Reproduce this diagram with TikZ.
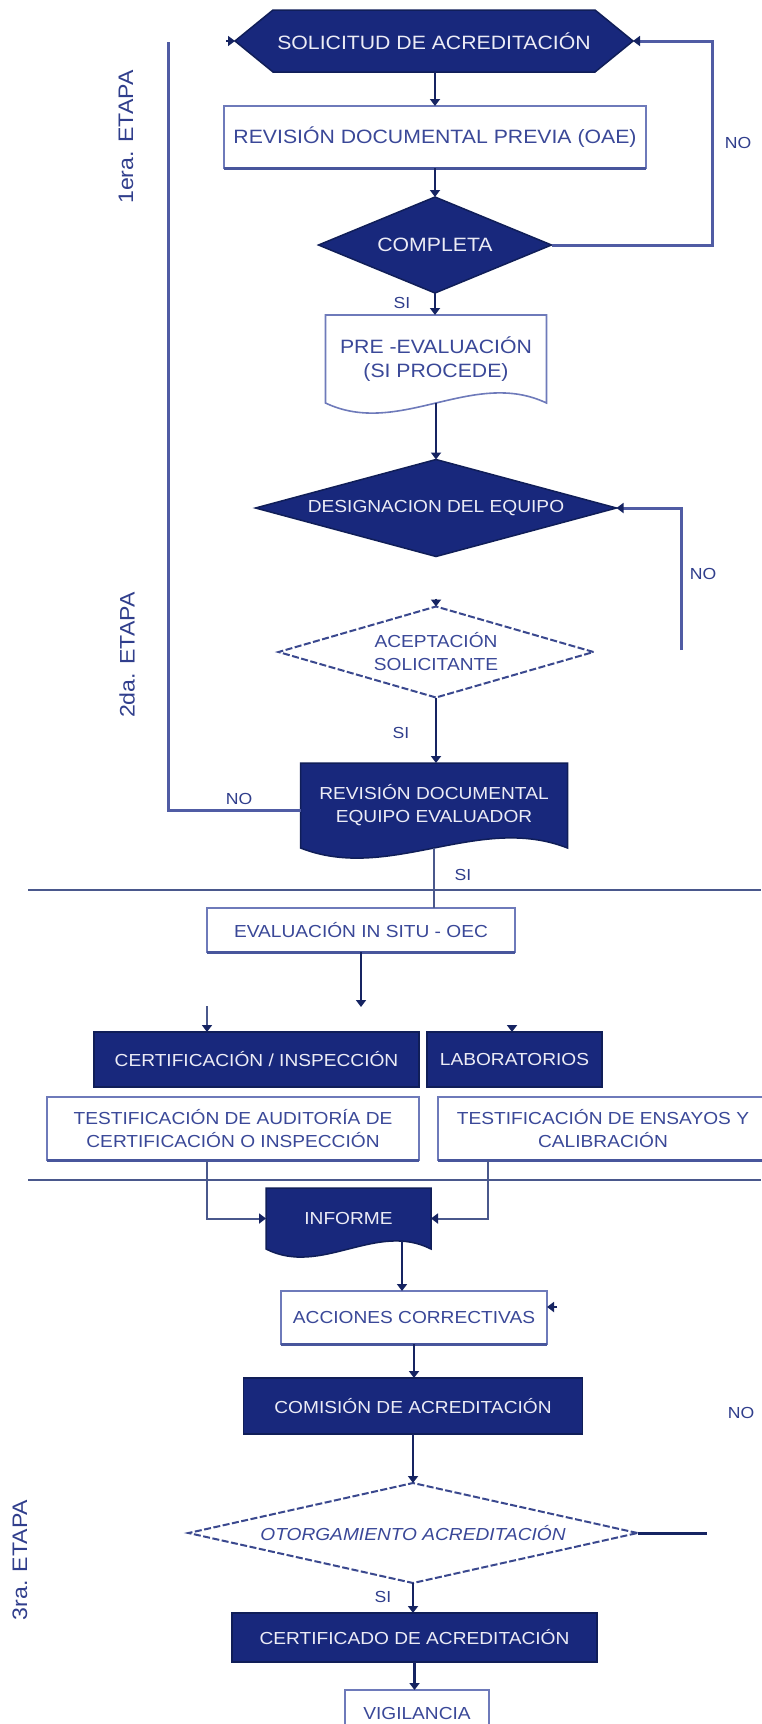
\documentclass[tikz,border=0pt]{standalone}
\usepackage{fontspec}
\newfontfamily\dg[FakeStretch=1.1]{Liberation Sans}
\usetikzlibrary{shapes.geometric,arrows.meta,calc,backgrounds}
\definecolor{navy}{RGB}{24,40,124}
\definecolor{navyb}{RGB}{16,30,88}
\definecolor{cline}{RGB}{22,36,98}
\definecolor{gline}{RGB}{74,88,140}
\definecolor{mline}{RGB}{80,92,164}
\definecolor{wbord}{RGB}{110,122,186}
\definecolor{wbot}{RGB}{72,86,156}
\definecolor{wtext}{RGB}{236,236,246}
\definecolor{btext}{RGB}{58,72,152}
\definecolor{ltext}{RGB}{48,62,140}
\definecolor{dline}{RGB}{58,72,142}
\newcommand\fL{\dg\fontsize{19.3}{24}\selectfont}
\newcommand\fN{\dg\fontsize{17.4}{23}\selectfont}
\newcommand\fS{\dg\fontsize{16}{18}\selectfont}
\newcommand\fE{\dg\fontsize{21}{24}\selectfont}
\begin{document}
\begin{tikzpicture}[x=1pt,y=-1pt,
  dark/.style={draw=navyb, line width=1.5pt, fill=navy, text=wtext, font=\fN, inner sep=0pt, outer sep=0pt, align=center},
  whitebox/.style={draw=wbord, line width=1.6pt, fill=white, text=btext, font=\fN, inner sep=0pt, outer sep=0pt, align=center,
     append after command={(\tikzlastnode.south west) edge[draw=wbot, line width=3pt] (\tikzlastnode.south east)}},
  shapebox/.style={draw=none, inner sep=0pt, outer sep=0pt, align=center, font=\fN, text=wtext},
  darkshape/.style={fill=navy, draw=navyb, line width=1.5pt},
  whiteshape/.style={fill=white, draw=wbord, line width=1.6pt},
  ddiam/.style={shape=diamond, fill=navy, draw=navyb, line width=1.5pt, text=wtext, font=\fN, inner sep=0pt, outer sep=0pt, align=center},
  wdiam/.style={shape=diamond, fill=white, draw=dline, line width=2pt, dash pattern=on 7pt off 2.5pt, text=btext, font=\fN, inner sep=0pt, outer sep=0pt, align=center},
  conn/.style={draw=cline, line width=2.2pt},
  arr/.style={conn, -{Triangle[width=10pt,length=7pt,color=cline]}},
  grayline/.style={draw=gline, line width=2pt},
  grayarr/.style={draw=gline, line width=2pt, -{Triangle[width=10pt,length=7pt,color=cline]}},
  sepline/.style={draw=gline, line width=2.6pt},
  loopline/.style={draw=mline, line width=3pt},
  looparr/.style={draw=mline, line width=3pt, -{Triangle[width=10pt,length=7pt,color=cline]}},
  lbl/.style={text=ltext, font=\fS, inner sep=0pt},
  stage/.style={text=ltext, font=\fE, inner sep=0pt, rotate=90}]
\useasboundingbox (0,0) rectangle (761,1724);

% nodes
\node[shapebox, font=\fL, minimum width=398pt, minimum height=62pt] (sol) at (434,41) {SOLICITUD DE ACREDITACIÓN};
\node[whitebox, font=\fL, minimum width=422pt, minimum height=62pt] (prev) at (435,137) {REVISIÓN DOCUMENTAL PREVIA (OAE)};
\node[ddiam, font=\fL, minimum width=233pt, minimum height=96pt, aspect=2.4] (comp) at (435,245) {COMPLETA};
\node[shapebox, font=\fL, text=btext, minimum width=221pt, minimum height=88pt] (pre) at (436,359) {PRE -EVALUACIÓN\\(SI PROCEDE)};
\node[ddiam, minimum width=361pt, minimum height=97pt, aspect=3.7] (des) at (436,508) {DESIGNACION DEL EQUIPO};
\node[wdiam, minimum width=315pt, minimum height=91pt, aspect=3.46] (acep) at (436,652) {ACEPTACIÓN\\SOLICITANTE};
\node[shapebox, minimum width=267pt, minimum height=85pt] (req) at (434,805.5) {REVISIÓN DOCUMENTAL\\EQUIPO EVALUADOR};
\node[whitebox, minimum width=308pt, minimum height=44pt] (insitu) at (361,930) {EVALUACIÓN IN SITU - OEC};
\node[dark, minimum width=325pt, minimum height=55pt] (cert) at (256.5,1059.5) {CERTIFICACIÓN / INSPECCIÓN};
\node[dark, minimum width=175pt, minimum height=55pt] (lab) at (514.5,1059.5) {LABORATORIOS};
\node[whitebox, minimum width=372pt, minimum height=63pt] (testA) at (233,1128.5) {TESTIFICACIÓN DE AUDITORÍA DE\\CERTIFICACIÓN O INSPECCIÓN};
\node[whitebox, minimum width=330pt, minimum height=63pt] (testB) at (603,1128.5) {TESTIFICACIÓN DE ENSAYOS Y\\CALIBRACIÓN};
\node[shapebox, minimum width=165pt, minimum height=61pt] (inf) at (348.5,1218.5) {INFORME};
\node[whitebox, minimum width=266pt, minimum height=53pt] (acc) at (414,1317.5) {ACCIONES CORRECTIVAS};
\node[dark, minimum width=339pt, minimum height=56pt] (com) at (413,1406) {COMISIÓN DE ACREDITACIÓN};
\node[wdiam, font=\fN\itshape, minimum width=449pt, minimum height=100pt, aspect=4.49] (oto) at (413,1533) {OTORGAMIENTO ACREDITACIÓN};
\node[dark, minimum width=365pt, minimum height=49pt] (cer) at (414.5,1637.5) {CERTIFICADO DE ACREDITACIÓN};
\node[whitebox, minimum width=144pt, minimum height=46pt] (vig) at (417,1713) {VIGILANCIA};

% background shapes
\begin{scope}[on background layer]
\fill[white] (0,0) rectangle (761,1724);
\path[darkshape] (sol.west) -- ([xshift=38pt]sol.north west) -- ([xshift=-38pt]sol.north east) -- (sol.east)
   -- ([xshift=-38pt]sol.south east) -- ([xshift=38pt]sol.south west) -- cycle;
\path[whiteshape] (pre.north west) -- (pre.north east) -- (pre.south east)
   .. controls ($(pre.south east)!0.333!(pre.south west)+(0,-35)$) and ($(pre.south east)!0.667!(pre.south west)+(0,35)$) .. (pre.south west) -- cycle;
\path[darkshape] (req.north west) -- (req.north east) -- (req.south east)
   .. controls ($(req.south east)!0.333!(req.south west)+(0,-35)$) and ($(req.south east)!0.667!(req.south west)+(0,35)$) .. (req.south west) -- cycle;
\path[darkshape] (inf.north west) -- (inf.north east) -- (inf.south east)
   .. controls ($(inf.south east)!0.333!(inf.south west)+(0,-28)$) and ($(inf.south east)!0.667!(inf.south west)+(0,28)$) .. (inf.south west) -- cycle;
\end{scope}

% labels
\node[lbl] (no1) at (738,143) {NO};
\node[lbl] (si1) at (402,303) {SI};
\node[lbl] (no2) at (703,574) {NO};
\node[lbl] (si2) at (401,733) {SI};
\node[lbl] (no3) at (239,799) {NO};
\node[lbl] (si3) at (463,875) {SI};
\node[lbl] (no4) at (741,1413) {NO};
\node[lbl] (si4) at (383,1597) {SI};
\node[stage] (st1) at (126,137) {1era. ETAPA};
\node[stage] (st2) at (127,655) {2da. ETAPA};
\node[stage] (st3) at (20,1560) {3ra. ETAPA};

% coordinates
\coordinate (c1) at (712,0);
\coordinate (c2) at (681,650);
\coordinate (c3) at (168,42);
\coordinate (s1a) at (28,890);
\coordinate (s1b) at (761,890);
\coordinate (s2a) at (28,1180);
\coordinate (s2b) at (761,1180);
\coordinate (sp) at (361,1007);
\coordinate (cA) at (207,1006);
\coordinate (ia) at ([xshift=53.5pt,yshift=8pt]inf.south);
\coordinate (oR) at (707,1533);

% connectors
\draw[arr] (prev.north |- sol.south) -- (prev.north);
\draw[arr] (prev.south) -- (prev.south |- comp.north);
\draw[looparr] (comp.east) -- (comp.east -| c1) -- (sol.east -| c1) -- (sol.east);
\draw[arr] (comp.south) -- (comp.south |- pre.north);
\draw[arr] (pre.south) -- (pre.south |- des.north);
\draw[looparr] (c2) |- (des.east);
\draw[arr] ([yshift=8pt]acep.north) -- (acep.north);
\draw[arr] (acep.south) -- (acep.south |- req.north);
\draw[loopline] ([yshift=-5pt]req.west) -| (c3);
\draw[arr] ([xshift=-9pt]sol.west) -- (sol.west);
\draw[grayline] (req.south) -- (req.south |- insitu.north);
\draw[sepline] (s1a) -- (s1b);
\draw[sepline] (s2a) -- (s2b);
\draw[arr, line width=2.8pt] (insitu.south) -- (sp);
\draw[grayarr] (cA) -- (cA |- cert.north);
\draw[arr] ([xshift=-2.5pt,yshift=7pt]lab.north) -- ([xshift=-2.5pt]lab.north);
\draw[grayarr] ([xshift=-26pt]testA.south) |- (inf.west);
\draw[grayarr] ([xshift=-115pt]testB.south) |- (inf.east);
\draw[arr, line width=2.8pt] (ia) -- (ia |- acc.north);
\draw[arr] ([xshift=10pt,yshift=10.5pt]acc.east) -- ([yshift=10.5pt]acc.east);
\draw[arr] (acc.south) -- (acc.south |- com.north);
\draw[arr] (com.south) -- (com.south |- oto.north);
\draw[conn, line width=3pt] (oto.east) -- (oR);
\draw[arr] (oto.south) -- (oto.south |- cer.north);
\draw[arr] (cer.south) -- (cer.south |- vig.north);
\end{tikzpicture}
\end{document}
